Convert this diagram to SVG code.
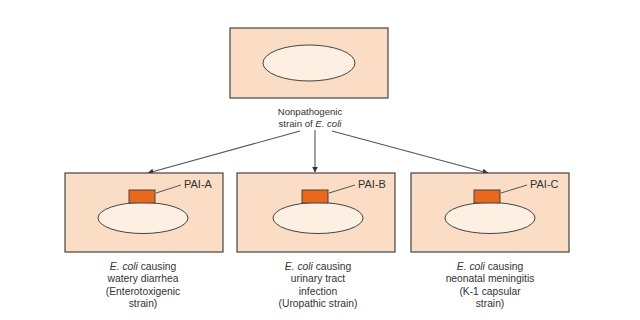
<svg xmlns="http://www.w3.org/2000/svg" width="640" height="320" viewBox="0 0 640 320">
<defs>
<style>
.box{fill:#fbdcc4;stroke:#444;stroke-width:1.2}
.cell{fill:#fdefe2;stroke:#444;stroke-width:1}
.pai{fill:#e8691e;stroke:#444;stroke-width:1}
.lead{stroke:#555;stroke-width:1;fill:none}
.conn{stroke:#555;stroke-width:1.1;fill:none;marker-end:url(#ah)}
text{font-family:"Liberation Sans",Arial,sans-serif;font-size:10.3px;fill:#333;text-anchor:middle}
.top{font-size:9.6px}
.lbl{text-anchor:start;font-size:11px}
</style>
<marker id="ah" viewBox="0 0 10 10" refX="9" refY="5" markerWidth="6" markerHeight="6" orient="auto" markerUnits="userSpaceOnUse">
<path d="M0,0 L10,5 L0,10 z" fill="#333"/>
</marker>
</defs>
<rect width="640" height="320" fill="#fff"/>
<g id="top">
<rect class="box" x="230" y="28" width="158" height="70"/>
<ellipse class="cell" cx="309" cy="63" rx="46" ry="18"/>
<text class="top" x="310" y="115">Nonpathogenic</text>
<text class="top" x="310" y="127">strain of <tspan font-style="italic">E. coli</tspan></text>
</g>
<g id="connectors">
<line class="conn" x1="300" y1="131" x2="148" y2="173"/>
<line class="conn" x1="315" y1="130" x2="315" y2="172"/>
<line class="conn" x1="332" y1="131" x2="488" y2="173"/>
</g>
<g id="nodeA">
<rect class="box" x="65" y="173" width="158" height="79"/>
<ellipse class="cell" cx="143" cy="218" rx="45" ry="15.5"/>
<rect class="pai" x="129" y="190" width="26" height="13"/>
<line class="lead" x1="156" y1="193" x2="181" y2="185"/>
<text class="lbl" x="184" y="188">PAI-A</text>
<text x="143" y="270"><tspan font-style="italic">E. coli</tspan> causing</text>
<text x="143" y="282">watery diarrhea</text>
<text x="143" y="295">(Enterotoxigenic</text>
<text x="143" y="307">strain)</text>
</g>
<g id="nodeB">
<rect class="box" x="237" y="173" width="158" height="79"/>
<ellipse class="cell" cx="318" cy="218" rx="45" ry="15.5"/>
<rect class="pai" x="302" y="190" width="26" height="13"/>
<line class="lead" x1="329" y1="193" x2="355" y2="185"/>
<text class="lbl" x="358" y="188">PAI-B</text>
<text x="318" y="270"><tspan font-style="italic">E. coli</tspan> causing</text>
<text x="318" y="282">urinary tract</text>
<text x="318" y="295">infection</text>
<text x="318" y="307">(Uropathic strain)</text>
</g>
<g id="nodeC">
<rect class="box" x="411" y="173" width="158" height="79"/>
<ellipse class="cell" cx="490" cy="218" rx="45" ry="15.5"/>
<rect class="pai" x="474" y="190" width="26" height="13"/>
<line class="lead" x1="501" y1="193" x2="527" y2="185"/>
<text class="lbl" x="530" y="188">PAI-C</text>
<text x="490" y="270"><tspan font-style="italic">E. coli</tspan> causing</text>
<text x="490" y="282">neonatal meningitis</text>
<text x="490" y="295">(K-1 capsular</text>
<text x="490" y="307">strain)</text>
</g>
</svg>
